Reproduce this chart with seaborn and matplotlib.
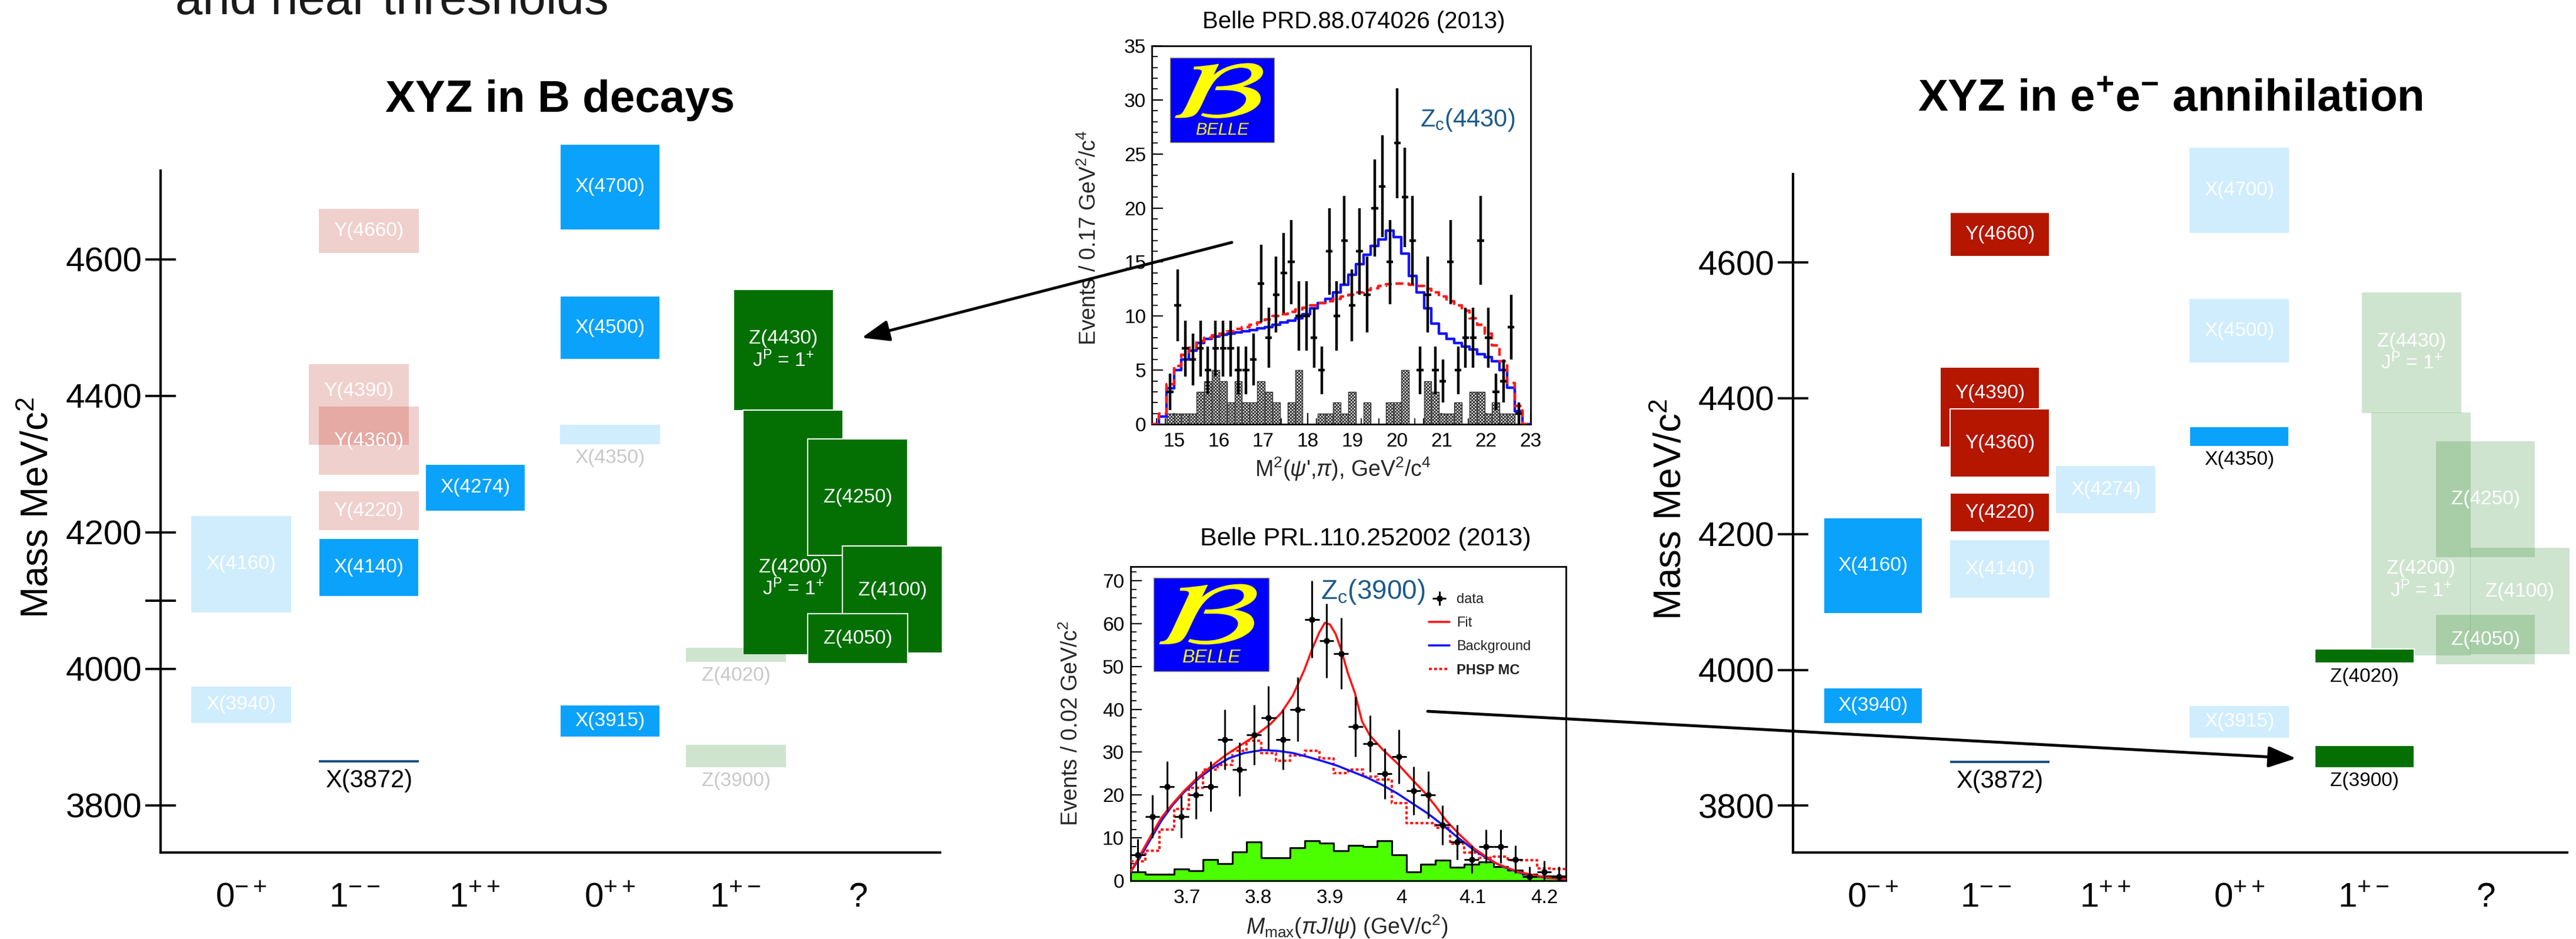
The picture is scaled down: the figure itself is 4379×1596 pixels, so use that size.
import numpy as np
import matplotlib
matplotlib.use("Agg")
import matplotlib.pyplot as plt
import seaborn as sns
from matplotlib.patches import Rectangle, PathPatch
from matplotlib.textpath import TextPath
from matplotlib.font_manager import FontProperties
from matplotlib.transforms import Affine2D
from matplotlib.lines import Line2D
from matplotlib.ticker import MultipleLocator

# ====================== DATA ======================
# --- XYZ mass spectrum panels ---
categories = ["0-+", "1--", "1++", "0++", "1+-", "?"]
category_labels = [r"$0^{-+}$", r"$1^{--}$", r"$1^{++}$", r"$0^{++}$", r"$1^{+-}$", r"$?$"]
mass_ticks_left = [3800, 4000, 4100, 4200, 4400, 4600]
mass_tick_labels_left = ["3800", "4000", "", "4200", "4400", "4600"]
mass_ticks_right = [3800, 4000, 4200, 4400, 4600]

state_names = ["X(4700)", "Y(4660)", "X(4500)", "Z(4430)", "Y(4390)", "Y(4360)",
               "X(4350)", "X(4274)", "Y(4220)", "X(4160)", "X(4140)", "Z(4200)",
               "Z(4250)", "Z(4100)", "Z(4050)", "Z(4020)", "X(3940)", "X(3915)",
               "Z(3900)", "X(3872)"]
state_family = ["X", "Y", "X", "Z", "Y", "Y", "X", "X", "Y", "X", "X", "Z",
                "Z", "Z", "Z", "Z", "X", "X", "Z", "X3872"]
state_category = ["0++", "1--", "0++", "1+-", "1--", "1--", "0++", "1++", "1--", "0-+",
                  "1--", "1+-", "?", "?", "?", "1+-", "0-+", "0++", "1+-", "1--"]
mass_lo = [4643, 4609, 4453, 4378, 4328, 4284, 4329, 4231, 4203, 4083,
           4106, 4021, 4166, 4023, 4008, 4010, 3921, 3900, 3856, 3863]
mass_hi = [4769, 4674, 4546, 4556, 4446, 4384, 4358, 4300, 4260, 4224,
           4191, 4379, 4337, 4180, 4081, 4031, 3974, 3947, 3889, 3866]
seen_in_B = [True, False, True, True, False, False, False, True, False, False,
             True, True, True, True, True, False, False, True, False, True]
seen_in_ee = [False, True, False, False, True, True, True, False, True, True,
              False, False, False, False, False, True, True, False, True, True]

# --- Belle PRD 88, 074026: M^2(psi' pi) ---
top_bin_lo, top_bin_w, top_nbins = 14.485, 0.17, 50
top_counts = [3, 11, 7, 6, 7, 5, 7, 7, 7, 5, 5, 6, 13, 8, 12, 14, 15, 10, 10, 8,
              5, 16, 10, 17, 11, 16, 12, 20, 22, 15, 26, 21, 17, 5, 12, 5, 4, 15, 5, 8,
              8, 17, 8, 3, 4, 9, 1]
top_err = [1.7, 3.3, 2.6, 2.4, 2.6, 2.2, 2.6, 2.6, 2.6, 2.2, 2.2, 2.4, 3.6, 2.8, 3.5,
           3.7, 3.9, 3.2, 3.2, 2.8, 2.2, 4.0, 3.2, 4.1, 3.3, 4.0, 3.5, 4.5, 4.7, 3.9,
           5.1, 4.6, 4.1, 2.2, 3.5, 2.2, 2.0, 3.9, 2.2, 2.8, 2.8, 4.1, 2.8, 1.7, 2.0,
           3.0, 1.0]
top_fit = [0, 0.7, 3.3, 5.0, 6.0, 6.8, 7.5, 7.9, 8.1, 8.25, 8.4, 8.5, 8.6, 8.7, 8.85,
           9.0, 9.2, 9.4, 9.6, 9.8, 10.2, 10.7, 11.2, 11.6, 12.2, 12.9, 13.8, 14.8,
           15.7, 16.5, 17.1, 17.9, 17.3, 15.8, 13.7, 12.2, 10.7, 9.3, 8.4, 7.9, 7.5,
           7.2, 6.9, 6.5, 6.2, 5.8, 5.0, 3.4, 1.2, 0]
top_phsp = [0, 1.0, 3.7, 5.4, 6.4, 7.1, 7.7, 8.0, 8.2, 8.4, 8.6, 8.8, 9.0, 9.2, 9.4,
            9.7, 10.0, 10.2, 10.4, 10.6, 10.8, 11.0, 11.2, 11.4, 11.6, 11.8, 12.0,
            12.2, 12.4, 12.6, 12.8, 12.95, 13.0, 13.0, 12.9, 12.8, 12.5, 12.2, 11.8,
            11.4, 11.0, 10.5, 9.8, 9.2, 8.4, 7.3, 5.8, 3.8, 1.7, 0]
top_sideband = [0, 0, 1, 1, 1, 1, 3, 4, 5, 4, 2, 4, 2, 2, 4, 3, 2, 0, 2, 5, 0, 0,
                1, 1, 2, 1, 3, 0, 2, 0, 0, 2, 2, 5, 0, 0, 4, 3, 1, 1, 2, 0, 3, 3, 1,
                2, 1, 1, 0, 0]

# --- Belle PRL 110, 252002: Mmax(pi J/psi) ---
bot_bin_lo, bot_bin_hi, bot_nbins = 3.621, 4.2305, 30
bot_counts = [6, 15, 22, 15, 20, 22, 33, 26, 34, 38, 33, 40, 61, 56, 53, 36, 32, 25,
              29, 21, 20, 13, 9, 5, 8, 8, 5, 1, 2, 1]
bot_err = [3.8, 5.0, 5.8, 5.0, 5.6, 5.8, 7.0, 6.3, 7.0, 7.4, 7.0, 7.5, 9.0, 8.6, 8.3,
           7.0, 6.6, 5.9, 6.3, 5.6, 5.5, 4.6, 4.0, 3.2, 3.9, 3.9, 3.2, 2.3, 2.6, 2.3]
bot_phsp = [4.5, 7.0, 12.0, 16.7, 21.7, 26.0, 27.0, 30.3, 32.7, 29.8, 28.0, 29.3, 30.3,
            28.6, 25.1, 26.0, 24.3, 23.6, 18.1, 13.4, 13.4, 12.4, 8.6, 6.6, 5.4, 5.6,
            4.8, 4.8, 2.9, 2.8]
bot_sideband = [2.0, 1.5, 1.5, 2.7, 2.4, 4.9, 4.0, 6.7, 9.0, 5.4, 5.4, 7.7, 9.3, 8.8,
                7.0, 8.2, 7.9, 9.4, 6.1, 2.0, 3.8, 4.8, 3.1, 3.8, 4.4, 3.3, 2.5, 1.5,
                1.1, 1.1]
fit_x = [3.621, 3.633, 3.649, 3.664, 3.680, 3.696, 3.712, 3.733, 3.754, 3.775, 3.796,
         3.817, 3.832, 3.848, 3.864, 3.875, 3.885, 3.893, 3.900, 3.908, 3.916, 3.925,
         3.935, 3.945, 3.956, 3.974, 3.995, 4.013, 4.032, 4.048, 4.063, 4.082, 4.103,
         4.132, 4.163, 4.200, 4.230]
fit_y = [2.1, 5.6, 10.4, 14.7, 18.0, 21.0, 23.6, 26.6, 29.3, 31.6, 33.9, 36.6, 39.2,
         43.2, 49.1, 54.0, 57.9, 60.2, 59.8, 57.6, 53.8, 48.5, 43.8, 37.2, 33.9, 30.6,
         27.3, 24.0, 20.7, 17.4, 14.0, 10.7, 7.4, 4.1, 2.1, 0.8, 0.4]
bkg_x = [3.621, 3.633, 3.649, 3.664, 3.680, 3.696, 3.717, 3.738, 3.759, 3.780, 3.806,
         3.827, 3.848, 3.869, 3.890, 3.911, 3.932, 3.953, 3.974, 3.995, 4.016, 4.037,
         4.058, 4.079, 4.100, 4.121, 4.142, 4.163, 4.184, 4.205, 4.230]
bkg_y = [2.1, 5.1, 9.7, 14.0, 17.7, 20.7, 24.0, 26.6, 28.6, 29.8, 30.5, 30.3, 29.8,
         28.9, 27.9, 26.8, 25.4, 24.0, 22.3, 20.3, 18.0, 15.7, 13.0, 10.1, 7.4, 5.1,
         3.3, 2.0, 1.1, 0.7, 0.3]

# ====================== LAYOUT / STYLE ======================
W, H = 4379, 1596
category_pos = [1.0, 1.92, 2.894, 3.99, 5.005, 6.0]
box_x = {"X(4700)": 3.991, "Y(4660)": 2.035, "X(4500)": 3.991, "Z(4430)": 5.398,
         "Y(4390)": 1.954, "Y(4360)": 2.035, "X(4350)": 3.991, "X(4274)": 2.898,
         "Y(4220)": 2.035, "X(4160)": 1.0, "X(4140)": 2.035, "Z(4200)": 5.475,
         "Z(4250)": 6.0, "Z(4100)": 6.281, "Z(4050)": 6.0, "Z(4020)": 5.012,
         "X(3940)": 1.0, "X(3915)": 3.991, "Z(3900)": 5.012, "X(3872)": 2.035}
box_w = 0.81
label_y = {"Y(4390)": 4407, "Z(4200)": 4132, "Z(4100)": 4115,
           "X(4350)": 4309, "Z(4020)": 3990, "Z(3900)": 3836, "X(3872)": 3836}
below_labels = {"X(4350)", "Z(4020)", "Z(3900)", "X(3872)"}
jp_names = {"Z(4430)", "Z(4200)"}
family_color = {"X": "#0aa2fb", "Y": "#b41600", "Z": "#047004", "X3872": "#1b4f86"}
light_alpha = {"X": 0.19, "Y": 0.2, "Z": 0.19, "X3872": 1.0}

sns.set_theme(style="white")
plt.rcParams["font.family"] = ["Liberation Sans", "DejaVu Sans"]
plt.rcParams["mathtext.fontset"] = "custom"
plt.rcParams["mathtext.rm"] = "Liberation Sans"
plt.rcParams["mathtext.it"] = "Liberation Sans:italic"
plt.rcParams["mathtext.bf"] = "Liberation Sans:bold"
plt.rcParams["mathtext.sf"] = "Liberation Sans"
plt.rcParams["hatch.linewidth"] = 1.1
plt.rcParams["hatch.color"] = "#222222"

fig = plt.figure(figsize=(W / 100, H / 100), dpi=100)
fig.patch.set_facecolor("white")


def fig_xy(px, py):
    return px / W, 1 - py / H


def mass_chart(rect, bright, yticks, yticklabels, ylabel_x):
    ax = fig.add_axes(rect)
    ax.set_facecolor("white")
    for name, fam, lo, hi, b in zip(state_names, state_family, mass_lo, mass_hi, bright):
        col = family_color[fam]
        if fam == "X3872":
            ax.bar(box_x[name], hi - lo, bottom=lo, width=box_w, color=col,
                   linewidth=0, clip_on=False, zorder=2)
        elif b:
            ax.bar(box_x[name], hi - lo, bottom=lo, width=box_w, color=col,
                   edgecolor="white", linewidth=1.5, clip_on=False, zorder=2)
        else:
            ax.bar(box_x[name], hi - lo, bottom=lo, width=box_w, color=col,
                   alpha=light_alpha[fam], linewidth=0, clip_on=False, zorder=2)
    for name, lo, hi, b in zip(state_names, mass_lo, mass_hi, bright):
        y = label_y.get(name, (lo + hi) / 2)
        if name in below_labels:
            color = "black" if b else "#c8c8c8"
        else:
            color = "white"
        size = 30 if name == "X(3872)" else 24
        txt = name
        if name in jp_names:
            txt = name + "\n" + r"J$^{\rm P}$ = 1$^{+}$"
        ax.text(box_x[name], y, txt, ha="center", va="center", color=color,
                fontsize=size, zorder=5, linespacing=1.15, clip_on=False)
    ax.set_xlim(0.346, 6.6675)
    ax.set_ylim(3731, 4730)
    for s in ["top", "right"]:
        ax.spines[s].set_visible(False)
    for s in ["left", "bottom"]:
        ax.spines[s].set_linewidth(3)
        ax.spines[s].set_color("black")
    ax.set_yticks(yticks)
    ax.set_yticklabels(yticklabels)
    ax.tick_params(axis="y", direction="inout", length=38, width=2.8, labelsize=42,
                   pad=4, color="black", labelcolor="black", left=True)
    ax.set_xticks(category_pos)
    ax.set_xticklabels(category_labels)
    ax.tick_params(axis="x", length=0, labelsize=42, pad=36, labelcolor="black")
    ax.text(ylabel_x, 0.506, r"Mass MeV/c$^{2}$", rotation=90, ha="center", va="center",
            fontsize=46, transform=ax.transAxes, color="black")
    ax.grid(False)
    return ax


axL = mass_chart([273 / W, 1 - 1449 / H, 1325 / W, 1159 / H], seen_in_B,
                 mass_ticks_left, mass_tick_labels_left, -0.157)
axR = mass_chart([3048 / W, 1 - 1449 / H, 1316 / W, 1153 / H], seen_in_ee,
                 mass_ticks_right, [str(t) for t in mass_ticks_right], -0.158)

# titles / header text (the first line is cut by the top edge, as in the slide)
fig.text(*fig_xy(298, 24), "and near thresholds", fontsize=60, va="baseline",
         ha="left", color="#1a1a1a")
fig.text(*fig_xy(952, 170), "XYZ in B decays", fontsize=55, fontweight="bold",
         ha="center", va="center", color="black")
fig.text(*fig_xy(3689, 170), r"XYZ in e$^{\mathbf{+}}$e$^{\mathbf{-}}$ annihilation",
         fontsize=55, fontweight="bold", ha="center", va="center", color="black")


def belle_logo(ax, x0, y0, x1, y1, fs):
    ax.add_patch(Rectangle((x0, y0), x1 - x0, y1 - y0, transform=ax.transAxes,
                           facecolor="#0000ff", edgecolor="#9a9a50", lw=1,
                           zorder=20, clip_on=False))
    tp = TextPath((0, 0), r"$\mathcal{B}$", size=100,
                  prop=FontProperties(math_fontfamily="stix"))
    bb = tp.get_extents()
    bx0, bx1 = x0 + 0.05 * (x1 - x0), x0 + 0.89 * (x1 - x0)
    by0, by1 = y0 + 0.29 * (y1 - y0), y0 + 0.93 * (y1 - y0)
    tr = (Affine2D().translate(-bb.x0, -bb.y0)
          .scale((bx1 - bx0) / bb.width, (by1 - by0) / bb.height)
          .translate(bx0, by0) + ax.transAxes)
    ax.add_patch(PathPatch(tp, transform=tr, facecolor="#ffff00", edgecolor="#ffff00",
                           lw=1.0, zorder=21, clip_on=False))
    ax.text((x0 + x1) / 2, y0 + 0.145 * (y1 - y0), "BELLE", transform=ax.transAxes,
            ha="center", va="center", fontsize=fs, style="italic", color="#ffff00",
            zorder=22)


def style_inset(ax):
    for s in ax.spines.values():
        s.set_linewidth(2)
        s.set_color("black")
    ax.tick_params(which="both", direction="in", top=False, right=False,
                   bottom=True, left=True, color="black", labelcolor="black")
    ax.tick_params(which="major", length=14, width=1.6, labelsize=24)
    ax.tick_params(which="minor", length=7, width=1.3)
    ax.set_xlabel("")
    ax.set_ylabel("")
    ax.grid(False)


# ---------- top inset ----------
ax1 = fig.add_axes([1958 / W, 1 - 721 / H, 644 / W, 643 / H])
top_edges = np.linspace(top_bin_lo, top_bin_lo + top_bin_w * top_nbins, top_nbins + 1)
top_centers = (top_edges[:-1] + top_edges[1:]) / 2
top_edges_list = top_edges.tolist()
sns.histplot(x=top_centers.tolist(), weights=top_sideband, bins=top_edges_list,
             element="bars", fill=True, color="white", edgecolor="#333333",
             hatch="x" * 6, linewidth=1.0, alpha=1, ax=ax1, zorder=1)
sns.histplot(x=top_centers.tolist(), weights=top_fit, bins=top_edges_list,
             element="step", fill=False, color="#1414ff", linewidth=3.2, ax=ax1,
             zorder=3)
sns.histplot(x=top_centers.tolist(), weights=top_phsp, bins=top_edges_list,
             element="step", fill=False, color="#ff1a1a", linewidth=3.2,
             linestyle=(0, (3, 1.6)), ax=ax1, zorder=4)
data_x_top = top_centers[2:2 + len(top_counts)]
ax1.errorbar(data_x_top, top_counts, yerr=top_err, xerr=0.075, fmt="none",
             ecolor="black", elinewidth=3.2, capsize=0, zorder=6)
ax1.set_xlim(14.5, 23)
ax1.set_ylim(0, 35)
ax1.xaxis.set_major_locator(MultipleLocator(1))
ax1.xaxis.set_minor_locator(MultipleLocator(0.2))
ax1.yaxis.set_major_locator(MultipleLocator(5))
ax1.yaxis.set_minor_locator(MultipleLocator(1))
style_inset(ax1)
ax1.tick_params(axis="y", pad=7)
ax1.tick_params(axis="x", pad=10)
ax1.text(-0.165, 0.493, r"Events / 0.17 GeV$^{2}$/c$^{4}$", rotation=90, ha="center",
         va="center", fontsize=27, transform=ax1.transAxes)
ax1.text(0.505, -0.118, r"M$^{2}$($\psi$',$\pi$), GeV$^{2}$/c$^{4}$", ha="center",
         va="center", fontsize=27, transform=ax1.transAxes)
ax1.text(0.708, 0.804, r"Z$_{\rm c}$(4430)", ha="left", va="center", fontsize=30,
         color="#1c5a8a", transform=ax1.transAxes, zorder=10)
belle_logo(ax1, 0.048, 0.745, 0.323, 0.969, 21)
fig.text(*fig_xy(2301, 37), "Belle PRD.88.074026 (2013)", fontsize=29, ha="center",
         va="center", color="black")

# ---------- bottom inset ----------
ax2 = fig.add_axes([1922 / W, 1 - 1497 / H, 740 / W, 534 / H])
bot_edges = np.linspace(bot_bin_lo, bot_bin_hi, bot_nbins + 1)
bot_centers = (bot_edges[:-1] + bot_edges[1:]) / 2
bot_half = (bot_edges[1] - bot_edges[0]) / 2
bot_edges_list = bot_edges.tolist()
sns.histplot(x=bot_centers.tolist(), weights=bot_sideband, bins=bot_edges_list,
             element="step", fill=True, color="#4cff00", edgecolor="black",
             linewidth=2.2, alpha=1, ax=ax2, zorder=1)
sns.histplot(x=bot_centers.tolist(), weights=bot_phsp, bins=bot_edges_list,
             element="step", fill=False, color="#ff1a1a", linewidth=3,
             linestyle=(0, (1.2, 0.9)), ax=ax2, zorder=3)
sns.lineplot(x=bkg_x, y=bkg_y, color="#1414ff", linewidth=2.6, sort=False,
             estimator=None, ax=ax2, zorder=4)
sns.lineplot(x=fit_x, y=fit_y, color="#ff1414", linewidth=2.6, sort=False,
             estimator=None, ax=ax2, zorder=5)
eb = ax2.errorbar(bot_centers, bot_counts, yerr=bot_err, xerr=bot_half, fmt="o",
                  color="black", ms=6.5, elinewidth=2.2, capsize=0, zorder=6)
ax2.set_xlim(bot_bin_lo, bot_bin_hi)
ax2.set_ylim(0, 73.3)
ax2.xaxis.set_major_locator(MultipleLocator(0.1))
ax2.xaxis.set_minor_locator(MultipleLocator(0.02))
ax2.yaxis.set_major_locator(MultipleLocator(10))
ax2.yaxis.set_minor_locator(MultipleLocator(2))
ax2.xaxis.set_major_formatter(matplotlib.ticker.FuncFormatter(lambda v, p: f"{v:g}"))
style_inset(ax2)
ax2.tick_params(axis="y", pad=8)
ax2.tick_params(axis="x", pad=10)
ax2.text(-0.136, 0.502, r"Events / 0.02 GeV/c$^{2}$", rotation=90, ha="center",
         va="center", fontsize=27, transform=ax2.transAxes)
ax2.text(0.497, -0.146, r"$M_{\rm max}(\pi J/\psi)$ (GeV/c$^{2}$)", ha="center",
         va="center", fontsize=27, transform=ax2.transAxes)
ax2.text(0.436, 0.919, r"Z$_{\rm c}$(3900)", ha="left", va="center", fontsize=33,
         color="#1c5a8a", transform=ax2.transAxes, zorder=10)
handles = [eb,
           Line2D([], [], color="#ff1414", lw=2.6),
           Line2D([], [], color="#1414ff", lw=2.6),
           Line2D([], [], color="#ff1a1a", lw=3, linestyle=(0, (1.2, 0.9)))]
leg = ax2.legend(handles, ["data", "Fit", "Background", "PHSP MC"], loc="upper left",
                 bbox_to_anchor=(0.685, 0.915), frameon=False, fontsize=17,
                 handlelength=1.5, handletextpad=0.5, labelspacing=0.75,
                 borderpad=0, borderaxespad=0)
for t in leg.get_texts():
    t.set_color("#222222")
leg.get_texts()[3].set_fontweight("bold")
belle_logo(ax2, 0.053, 0.667, 0.318, 0.964, 23)
fig.text(*fig_xy(2321, 916), "Belle PRL.110.252002 (2013)", fontsize=31, ha="center",
         va="center", color="black")

# ---------- arrows overlay ----------
ov = fig.add_axes([0, 0, 1, 1], zorder=50)
ov.set_xlim(0, W)
ov.set_ylim(H, 0)
ov.axis("off")
ov.patch.set_alpha(0)
arrow_kw = dict(arrowstyle="-|>,head_length=1.3,head_width=0.5", lw=3.5, color="black",
                shrinkA=0, shrinkB=0, mutation_scale=22)
ov.annotate("", xy=(1465, 574), xytext=(2094, 412), arrowprops=arrow_kw)
ov.annotate("", xy=(3903, 1289), xytext=(2427, 1209), arrowprops=arrow_kw)

fig.savefig("out.png", dpi=100, facecolor="white")
